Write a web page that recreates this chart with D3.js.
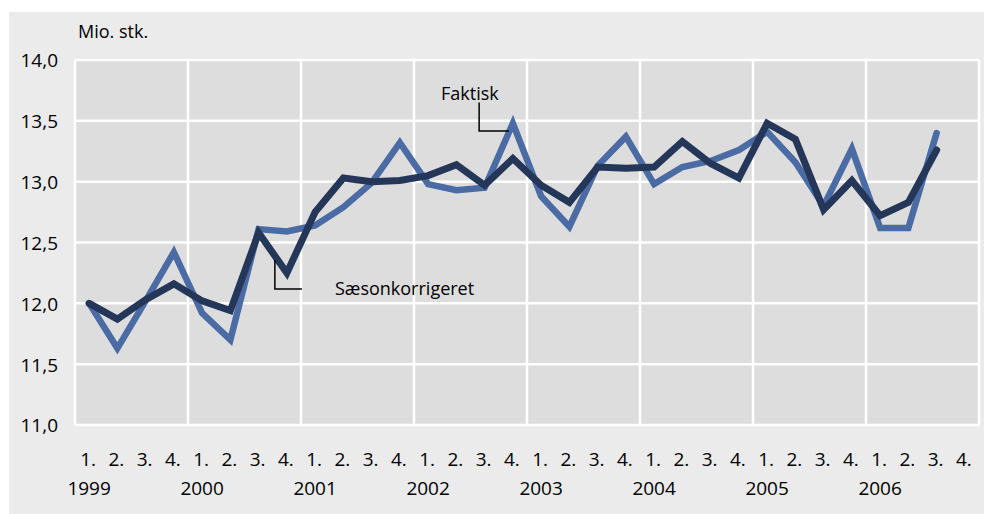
<!DOCTYPE html>
<html>
<head>
<meta charset="utf-8">
<script src="https://cdn.jsdelivr.net/npm/d3@7"></script>
<style>
  html, body { margin: 0; padding: 0; background: #ffffff; }
  svg { display: block; }
  text { font-family: "Open Sans", "DejaVu Sans", sans-serif; fill: #000000; }
</style>
</head>
<body>
<svg id="chart" width="984" height="514"></svg>
<script>
// ---- Data ----
const years = ["1999", "2000", "2001", "2002", "2003", "2004", "2005", "2006"];
const quarterLabels = ["1.", "2.", "3.", "4."];
const yTicks = [11.0, 11.5, 12.0, 12.5, 13.0, 13.5, 14.0];
const unitLabel = "Mio. stk.";

// Faktisk (actual), 1999Q1 .. 2006Q3
const faktisk = [
  12.00, 11.63, 12.02, 12.42,
  11.92, 11.70, 12.61, 12.59,
  12.64, 12.79, 12.99, 13.32,
  12.98, 12.93, 12.95, 13.48,
  12.88, 12.63, 13.13, 13.37,
  12.98, 13.12, 13.17, 13.26,
  13.41, 13.16, 12.80, 13.27,
  12.62, 12.62, 13.40
];
// Sæsonkorrigeret (seasonally adjusted)
const saeson = [
  12.00, 11.87, 12.03, 12.16,
  12.02, 11.94, 12.58, 12.25,
  12.75, 13.03, 13.00, 13.01,
  13.05, 13.14, 12.97, 13.19,
  12.97, 12.83, 13.12, 13.11,
  13.12, 13.33, 13.15, 13.03,
  13.48, 13.35, 12.77, 13.01,
  12.72, 12.83, 13.26
];

// ---- Layout ----
const svg = d3.select("#chart");
const W = 984, H = 514;
const plot = { left: 75, right: 979, top: 60, bottom: 425 };

const nQ = years.length * 4;
const x = d3.scaleLinear().domain([0, nQ]).range([plot.left, plot.right]);
const y = d3.scaleLinear().domain([11, 14]).range([plot.bottom, plot.top]);

// outer panel
svg.append("rect").attr("x", 9).attr("y", 12).attr("width", W - 9).attr("height", H - 12)
  .attr("fill", "#ebebeb");
// plot area
svg.append("rect").attr("x", plot.left).attr("y", plot.top)
  .attr("width", plot.right - plot.left).attr("height", plot.bottom - plot.top)
  .attr("fill", "#dddddd");

// grid
const grid = svg.append("g").attr("stroke", "#ffffff").attr("stroke-width", 2.5);
grid.selectAll("line.h").data(yTicks).join("line")
  .attr("x1", plot.left).attr("x2", plot.right)
  .attr("y1", d => y(d)).attr("y2", d => y(d));
grid.selectAll("line.v").data(d3.range(0, nQ + 1, 4)).join("line")
  .attr("y1", plot.top).attr("y2", plot.bottom)
  .attr("x1", d => x(d)).attr("x2", d => x(d));

// y axis labels
const yAxis = d3.axisLeft(y).tickValues(yTicks).tickSize(0).tickPadding(0)
  .tickFormat(d => d3.format(".1f")(d).replace(".", ","));
const yg = svg.append("g").attr("transform", `translate(${plot.left - 17},0)`).call(yAxis);
yg.select(".domain").remove();
yg.selectAll("text").attr("font-size", 19).attr("font-family", "Open Sans")
  .attr("fill", "#000").attr("dy", "0.36em");

// unit label
svg.append("text").attr("x", 78).attr("y", 38).attr("font-size", 18).text(unitLabel);

// x labels
const qData = d3.range(nQ).map(i => ({ i, q: quarterLabels[i % 4] }));
svg.append("g").selectAll("text").data(qData).join("text")
  .attr("x", d => x(d.i + 0.5) - 1).attr("y", 466)
  .attr("text-anchor", "middle").attr("font-size", 19).text(d => d.q);
svg.append("g").selectAll("text").data(years).join("text")
  .attr("x", (d, k) => x(k * 4 + 0.5)).attr("y", 495)
  .attr("text-anchor", "middle").attr("font-size", 19).text(d => d);

// lines
const line = d3.line().x((d, i) => x(i + 0.5)).y(d => y(d));
svg.append("path").datum(faktisk).attr("d", line)
  .attr("fill", "none").attr("stroke", "#4b6ba5").attr("stroke-width", 6.5)
  .attr("stroke-linejoin", "miter").attr("stroke-linecap", "round");
svg.append("path").datum(saeson).attr("d", line)
  .attr("fill", "none").attr("stroke", "#253759").attr("stroke-width", 7)
  .attr("stroke-linejoin", "miter").attr("stroke-linecap", "round");

// annotations
const ann = svg.append("g");
// Faktisk
ann.append("text").attr("x", 441).attr("y", 100).attr("font-size", 18).text("Faktisk");
ann.append("path").attr("d", `M${x(14.5) - 5.5},${y(13.65)} V${y(13.416)} H${x(15.5) - 4}`)
  .attr("fill", "none").attr("stroke", "#000").attr("stroke-width", 1.5);
// Sæsonkorrigeret
ann.append("text").attr("x", 335).attr("y", 295).attr("font-size", 18).text("Sæsonkorrigeret");
ann.append("path").attr("d", `M${x(7.5) - 12},${y(12.356)} V${y(12.118)} H${x(7.5) + 15}`)
  .attr("fill", "none").attr("stroke", "#000").attr("stroke-width", 1.5);
</script>
</body>
</html>
